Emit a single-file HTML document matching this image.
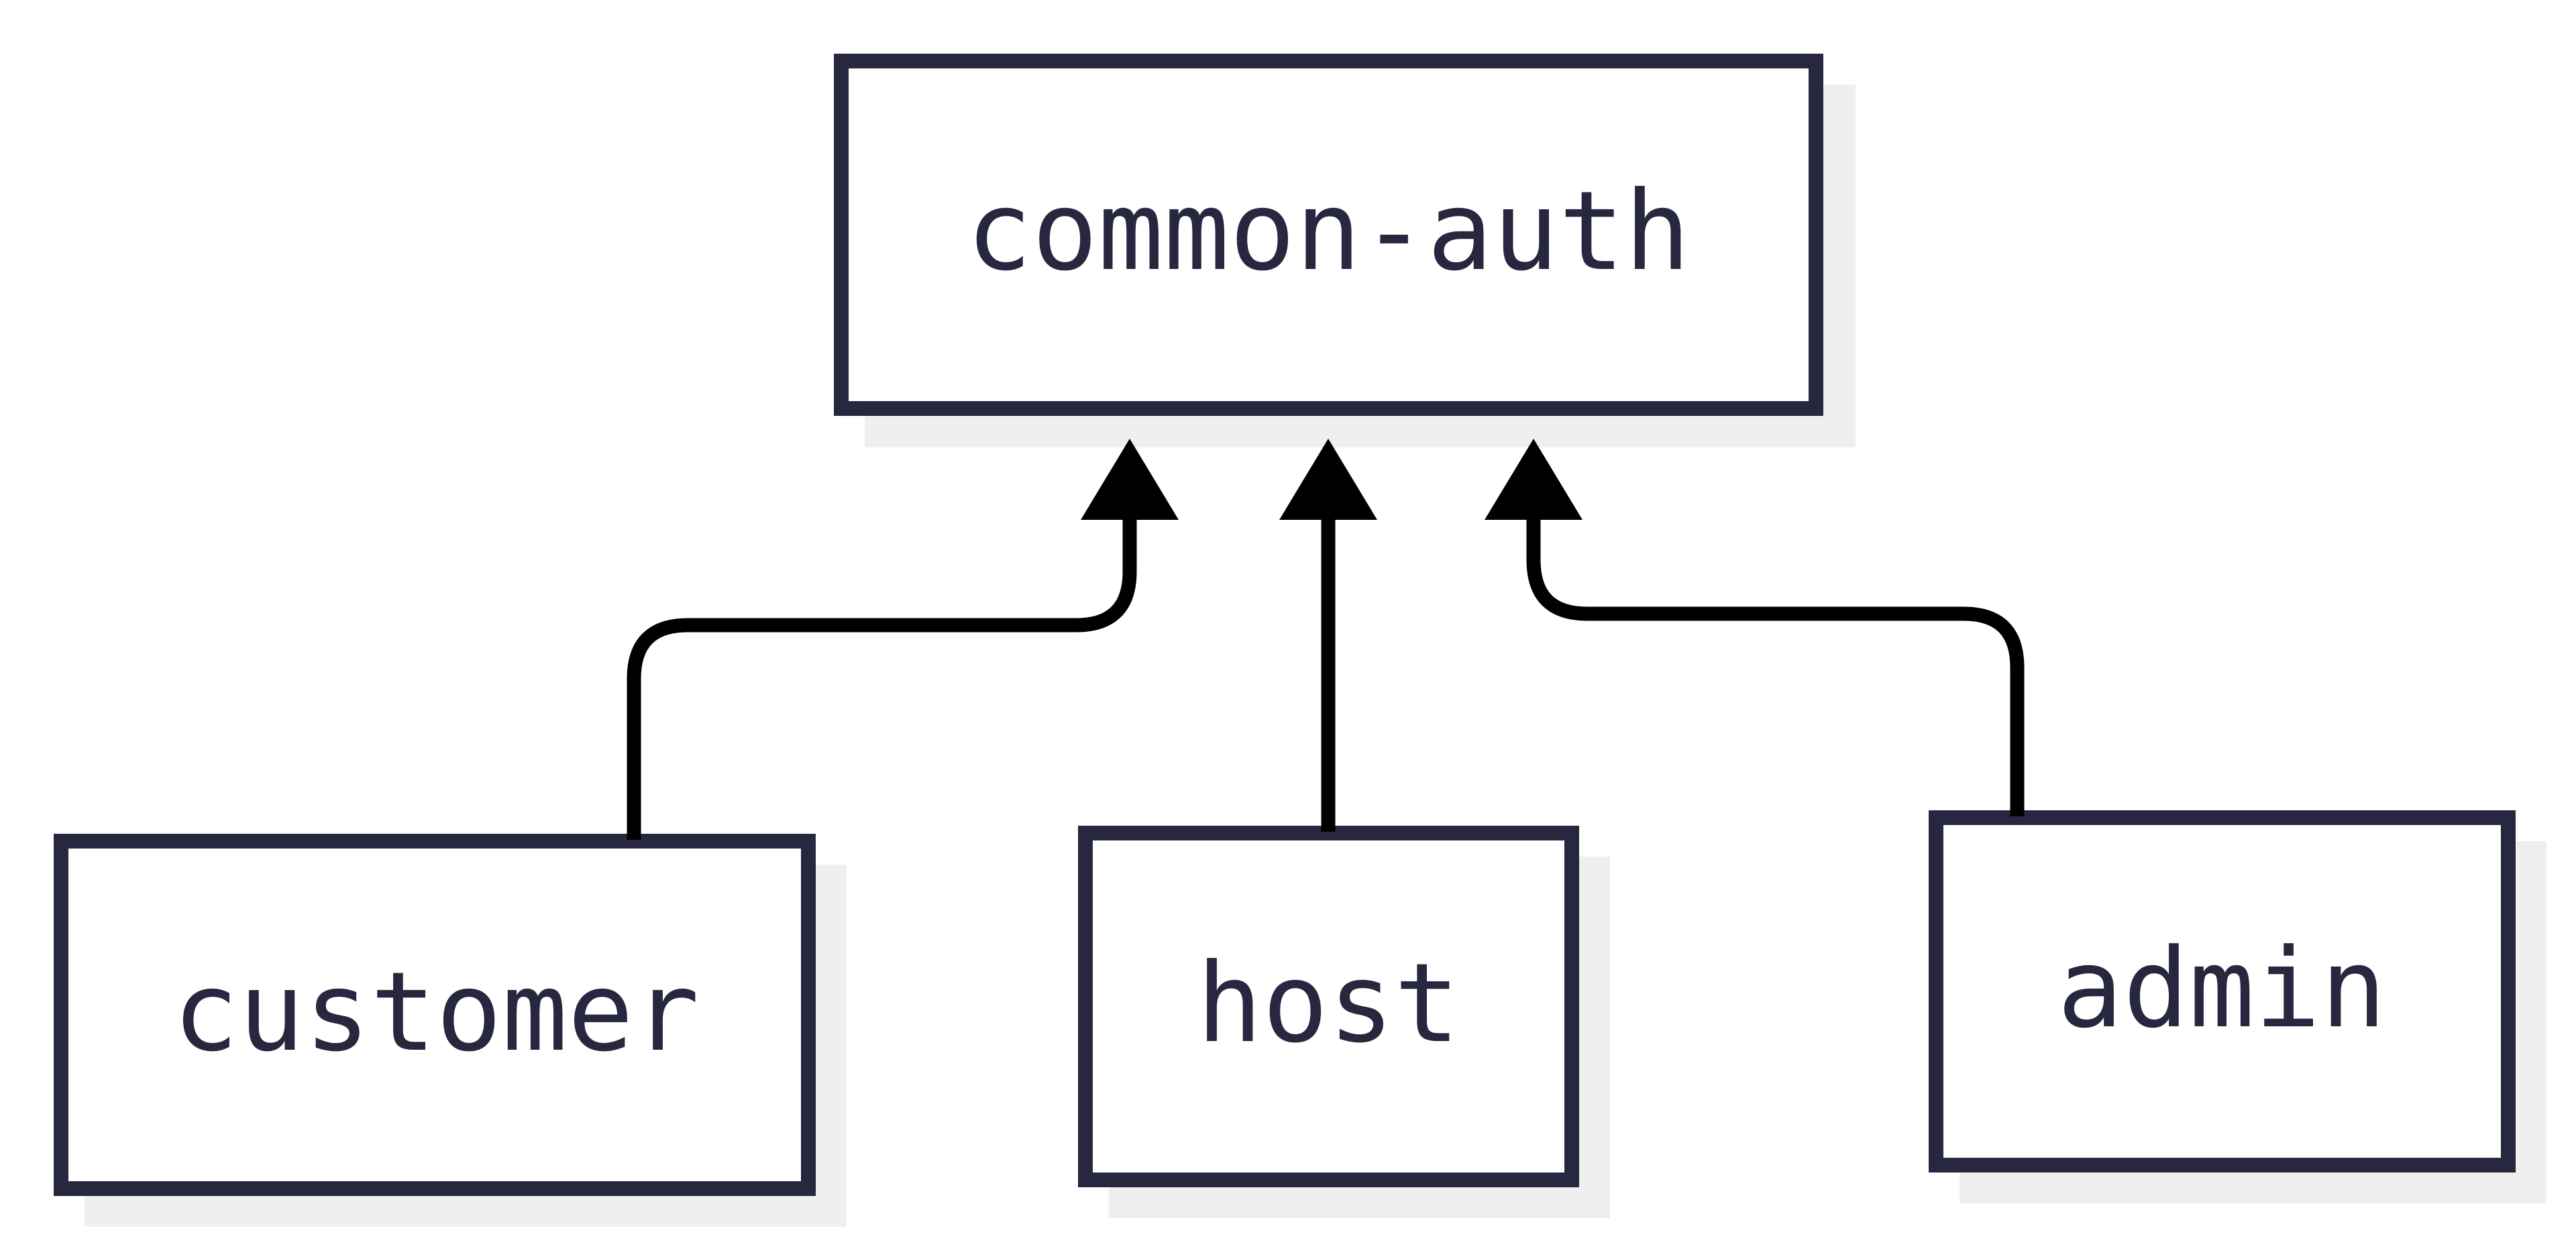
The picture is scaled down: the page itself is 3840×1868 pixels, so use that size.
<!DOCTYPE html>
<html><head><meta charset="utf-8"><style>html,body{margin:0;padding:0;background:#fff}svg{display:block}</style></head>
<body>
<svg width="3840" height="1868" viewBox="0 0 3840 1868" xmlns="http://www.w3.org/2000/svg">
<g fill="#efefef">
<rect x="1289" y="126" width="1477" height="541"/>
<rect x="126" y="1289" width="1136" height="540"/>
<rect x="1653" y="1277" width="747" height="539"/>
<rect x="2921" y="1254" width="875" height="540"/>
</g>
<g fill="#fff" stroke="#27273f" stroke-width="22">
<rect x="1254" y="91" width="1453" height="518"/>
<rect x="91" y="1254" width="1114" height="518"/>
<rect x="1618" y="1242" width="725" height="517"/>
<rect x="2886" y="1219" width="853" height="518"/>
</g>
<g fill="none" stroke="#000" stroke-width="21">
<path d="M945 1252 V1012 Q945 932 1025 932 H1604 Q1684 932 1684 852 V770"/>
<path d="M1980 1240 V770"/>
<path d="M3007 1217 V995 Q3007 915 2927 915 H2366 Q2286 915 2286 835 V770"/>
</g>
<g fill="#000">
<polygon points="1684,654 1611,775 1757,775"/>
<polygon points="1980,654 1907,775 2053,775"/>
<polygon points="2286,654 2213,775 2359,775"/>
</g>
<g fill="#27273f" font-family="'DejaVu Sans Mono','Liberation Mono',monospace" font-size="163" text-anchor="middle">
<text x="1980" y="401">common-auth</text>
<text x="650" y="1565">customer</text>
<text x="1980" y="1552">host</text>
<text x="3312" y="1530">admin</text>
</g>
</svg>
</body></html>
